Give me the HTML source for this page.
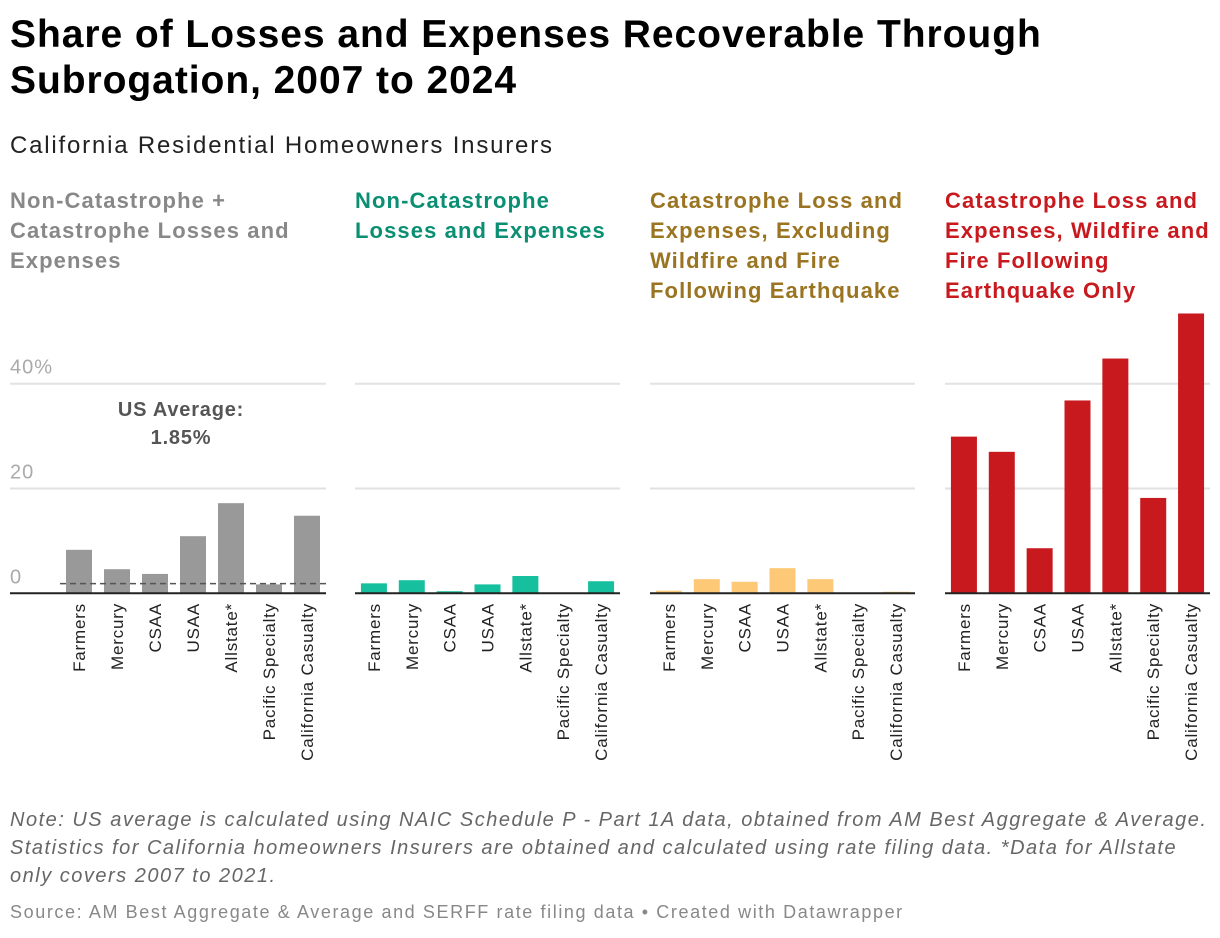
<!DOCTYPE html>
<html><head><meta charset="utf-8"><style>
body{margin:0;background:#fff;font-family:"Liberation Sans",sans-serif;}
#wrap{position:relative;width:1220px;height:938px;overflow:hidden}
h1{position:absolute;left:10px;top:12px;margin:0;font-size:39px;line-height:46px;font-weight:bold;color:#000;letter-spacing:0.95px}
.sub{position:absolute;left:10px;top:132px;font-size:24px;color:#222;letter-spacing:1.8px}
.ph{position:absolute;top:186px;font-size:22px;line-height:30px;font-weight:bold;letter-spacing:1.1px}
.note{position:absolute;left:10px;top:806px;font-size:20px;line-height:28px;font-style:italic;color:#666;width:1210px;letter-spacing:1.5px}
.src{position:absolute;left:10px;top:902px;font-size:18px;color:#888;letter-spacing:1.6px}
</style></head><body><div id="wrap">
<h1>Share of Losses and Expenses Recoverable Through<br>Subrogation, 2007 to 2024</h1>
<div class="sub">California Residential Homeowners Insurers</div>
<div class="ph" style="left:10px;color:#888">Non-Catastrophe +<br>Catastrophe Losses and<br>Expenses</div>
<div class="ph" style="left:355px;color:#0a8f73">Non-Catastrophe<br>Losses and Expenses</div>
<div class="ph" style="left:650px;color:#9a7420">Catastrophe Loss and<br>Expenses, Excluding<br>Wildfire and Fire<br>Following Earthquake</div>
<div class="ph" style="left:945px;color:#c8191e">Catastrophe Loss and<br>Expenses, Wildfire and<br>Fire Following<br>Earthquake Only</div>
<svg id="svg" width="1220" height="938" style="position:absolute;left:0;top:0"></svg>
<div class="note">Note: US average is calculated using NAIC Schedule P - Part 1A data, obtained from AM Best Aggregate &amp; Average.<br>Statistics for California homeowners Insurers are obtained and calculated using rate filing data. *Data for Allstate<br>only covers 2007 to 2021.</div>
<div class="src">Source: AM Best Aggregate &amp; Average and SERFF rate filing data • Created with Datawrapper</div>
</div>
<script>
const categories=["Farmers","Mercury","CSAA","USAA","Allstate*","Pacific Specialty","California Casualty"];
const totalValues=[8.3,4.6,3.7,10.9,17.2,1.7,14.8];
const nonCatValues=[1.9,2.5,0.4,1.7,3.3,0,2.3];
const catExFireValues=[0.5,2.7,2.2,4.8,2.7,0,0.3];
const wildfireValues=[29.9,27.0,8.6,36.8,44.8,18.2,53.4];
const yTicks=[0,20,40];
const yTickLabels=["0","20","40%"];
const usAverage=1.85;
const NS="http://www.w3.org/2000/svg";
const svg=document.getElementById('svg');
const y0=593.3, pxPer=104.8/20;
function yScale(v){return y0-v*pxPer;}
function mk(t,a){const e=document.createElementNS(NS,t);for(const k in a)e.setAttribute(k,a[k]);svg.appendChild(e);return e;}
const panels=[
 {vals:totalValues,x0:10,bx:60,x1:326,color:"#999999",axis:true,name:"total"},
 {vals:nonCatValues,x0:355,bx:355,x1:620,color:"#16bf9d",name:"noncat"},
 {vals:catExFireValues,x0:650,bx:650,x1:915,color:"#fdc977",name:"cat-ex-fire"},
 {vals:wildfireValues,x0:945,bx:945,x1:1210,color:"#c8191e",name:"wildfire"}];
panels.forEach(p=>{
 yTicks.forEach((t,i)=>{
  if(t===0)return;
  const g=mk('line',{x1:p.x0,x2:p.x1,y1:yScale(t),y2:yScale(t),stroke:'#e2e2e2','stroke-width':2});
  
  
 });
 if(p.axis){yTicks.forEach((t,i)=>{
  const tx=mk('text',{x:p.x0,y:yScale(t)-10,'font-size':20,fill:'#aaa','font-family':'Liberation Sans','letter-spacing':'1'});
  tx.textContent=yTickLabels[i];
  
  
 });}
 const band=(p.x1-p.bx)/categories.length, bw=26;
 p.vals.forEach((v,i)=>{
  const cx=p.bx+band*(i+0.5);
  const r=mk('rect',{x:cx-bw/2,y:yScale(v),width:bw,height:y0-yScale(v),fill:p.color});
  
  
  const l=mk('text',{transform:`translate(${cx+6},603) rotate(-90)`,'text-anchor':'end','font-size':17,fill:'#222','font-family':'Liberation Sans','letter-spacing':'0.8'});
  l.textContent=categories[i];
  
  
 });
 const b=mk('line',{x1:p.x0,x2:p.x1,y1:y0,y2:y0,stroke:'#222','stroke-width':2});
 
 
 if(p.axis){
  const d=mk('line',{x1:p.bx,x2:p.x1,y1:yScale(usAverage),y2:yScale(usAverage),stroke:'#555','stroke-width':1.5,'stroke-dasharray':'6,4'});
  
  
  [["US Average:",416],["1.85%",444]].forEach(([s,yy])=>{
   const t=mk('text',{x:181,y:yy,'text-anchor':'middle','font-size':20,'font-weight':'bold',fill:'#555','font-family':'Liberation Sans','letter-spacing':'0.8'});
   t.textContent=s;
   
   
  });
 }
});
</script></body></html>
